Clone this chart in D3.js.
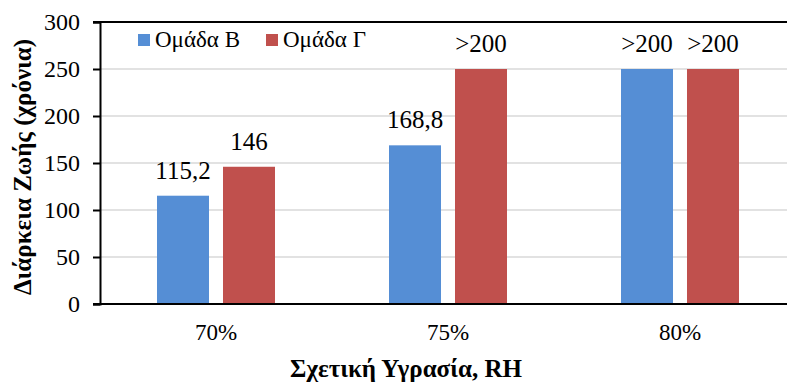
<!DOCTYPE html>
<html>
<head>
<meta charset="utf-8">
<script src="https://cdn.jsdelivr.net/npm/d3@7"></script>
<style>
  html, body { margin: 0; padding: 0; background: #fff; font-family: "Liberation Serif", serif; }
  svg { display: block; font-family: "Liberation Serif", serif; }
</style>
</head>
<body>
<svg id="chart" width="787" height="383"></svg>
<script>
// Relative humidity categories
const categories = ["70%", "75%", "80%"];
const seriesNames = ["Ομάδα Β", "Ομάδα Γ"];
// Service life (years); values above 200 are open-ended and shown as ">200"
const groupB = [115.2, 168.8, 250];
const groupG = [146, 250, 250];
const labelsB = ["115,2", "168,8", ">200"];
const labelsG = ["146", ">200", ">200"];
const yTicks = [0, 50, 100, 150, 200, 250, 300];
const colors = ["#558ED5", "#C0504D"];

const FONT = "Liberation Serif";
const serif = sel => sel.attr("font-family", FONT).style("font-family", "'Liberation Serif', serif");

const svg = d3.select("#chart");
const m = { left: 100, right: 796, top: 22, bottom: 304 };

const x = d3.scaleBand().domain(categories).range([m.left, m.right]).padding(0);
const xs = d3.scaleBand().domain(seriesNames).range([0, 118]).paddingInner(0.212).paddingOuter(0);
const y = d3.scaleLinear().domain([0, 300]).range([m.bottom, m.top]);

// Gridlines
svg.append("g")
  .selectAll("line")
  .data(yTicks.filter(d => d > 0 && d < 300))
  .join("line")
  .attr("x1", m.left).attr("x2", m.right)
  .attr("y1", d => y(d)).attr("y2", d => y(d))
  .attr("stroke", "#d9d9d9").attr("stroke-width", 1.5);

// Bars
const rows = categories.map((c, i) => ({
  cat: c,
  items: [
    { s: seriesNames[0], v: groupB[i], label: labelsB[i], color: colors[0] },
    { s: seriesNames[1], v: groupG[i], label: labelsG[i], color: colors[1] }
  ]
}));

const groups = svg.append("g").selectAll("g")
  .data(rows).join("g")
  .attr("transform", d => `translate(${x(d.cat) + x.bandwidth() / 2 - 59},0)`);

groups.selectAll("rect")
  .data(d => d.items).join("rect")
  .attr("x", d => xs(d.s))
  .attr("width", xs.bandwidth())
  .attr("y", d => y(d.v))
  .attr("height", d => y(0) - y(d.v))
  .attr("fill", d => d.color);

groups.selectAll("text")
  .data(d => d.items).join("text")
  .attr("x", d => xs(d.s) + xs.bandwidth() / 2)
  .attr("y", d => y(d.v) - 17)
  .attr("text-anchor", "middle")
  .attr("font-size", 25)
  .attr("fill", "#000")
  .text(d => d.label)
  .call(serif);

// Top frame line
svg.append("line")
  .attr("x1", m.left - 7).attr("x2", m.right)
  .attr("y1", m.top).attr("y2", m.top)
  .attr("stroke", "#000").attr("stroke-width", 2);

// Y axis
const yAxis = svg.append("g")
  .attr("transform", `translate(${m.left},0)`)
  .call(d3.axisLeft(y).tickValues(yTicks).tickSize(7).tickPadding(13).tickFormat(d3.format("d")));
yAxis.call(serif);
yAxis.select(".domain").attr("stroke", "#000").attr("stroke-width", 2);
yAxis.selectAll(".tick line").attr("stroke", "#000").attr("stroke-width", 2);
yAxis.selectAll(".tick text").attr("font-size", 24).attr("fill", "#000").call(serif);

// X axis
const xAxis = svg.append("g")
  .attr("transform", `translate(0,${m.bottom})`)
  .call(d3.axisBottom(x).tickSize(0).tickPadding(20));
xAxis.call(serif);
xAxis.select(".domain").attr("d", `M${m.left - 7},0H${m.right}`).attr("stroke", "#000").attr("stroke-width", 2);
xAxis.selectAll(".tick text").attr("font-size", 23).attr("fill", "#000").call(serif);

// Axis titles
svg.append("text")
  .attr("transform", "translate(31,167) rotate(-90)")
  .attr("text-anchor", "middle")
  .attr("font-weight", "bold").attr("font-size", 25)
  .text("Διάρκεια Ζωής (χρόνια)")
  .call(serif);

svg.append("text")
  .attr("x", 406).attr("y", 377)
  .attr("text-anchor", "middle")
  .attr("font-weight", "bold").attr("font-size", 25)
  .text("Σχετική Υγρασία, RH")
  .call(serif);

// Legend
const legend = svg.append("g");
const legendX = [138, 266];
seriesNames.forEach((s, i) => {
  legend.append("rect")
    .attr("x", legendX[i]).attr("y", 34)
    .attr("width", 12).attr("height", 12)
    .attr("fill", colors[i]);
  legend.append("text")
    .attr("x", legendX[i] + 17).attr("y", 47)
    .attr("font-size", 23)
    .text(s)
    .call(serif);
});
</script>
</body>
</html>
